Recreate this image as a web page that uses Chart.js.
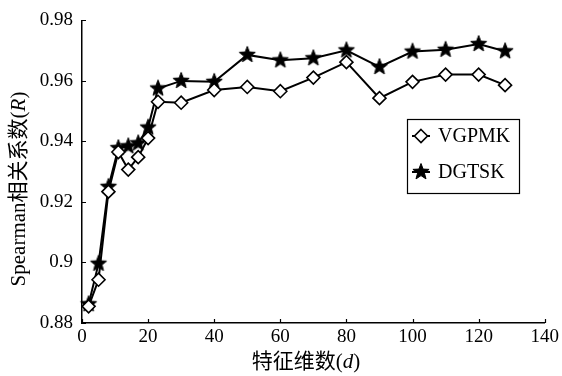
<!DOCTYPE html>
<html>
<head>
<meta charset="utf-8">
<script src="https://cdn.jsdelivr.net/npm/chart.js@4.4.0/dist/chart.umd.min.js"></script>
<style>
html,body{margin:0;padding:0;background:#fff;}
#wrap{width:562px;height:376px;position:relative;}
</style>
</head>
<body>
<div id="wrap"><canvas id="c" width="562" height="376"></canvas></div>
<script>
// ---- data ----
const dims = [2, 5, 8, 11, 14, 17, 20, 23, 30, 40, 50, 60, 70, 80, 90, 100, 110, 120, 128];
const vgpmk = [0.8855, 0.8943, 0.9234, 0.9365, 0.9307, 0.9348, 0.9411, 0.9531, 0.9528, 0.9570, 0.9580, 0.9566, 0.9611, 0.9662, 0.9543, 0.9597, 0.9621, 0.9621, 0.9586];
const dgtsk = [0.8862, 0.8996, 0.9250, 0.9378, 0.9384, 0.9394, 0.9446, 0.9575, 0.9600, 0.9597, 0.9686, 0.9668, 0.9675, 0.9701, 0.9646, 0.9697, 0.9703, 0.9722, 0.9698];
const seriesNames = ['VGPMK', 'DGTSK'];
const xTickValues = [0, 20, 40, 60, 80, 100, 120, 140];
const yTickValues = [0.88, 0.90, 0.92, 0.94, 0.96, 0.98];
const xTitle = ['特征维数(', 'd', ')'];
const yTitle = ['Spearman相关系数(', 'R', ')'];

const SERIF = '"Liberation Serif", "Noto Sans CJK SC", serif';

function makeStar(size, outerR, innerR) {
  const cv = document.createElement('canvas');
  cv.width = size; cv.height = size;
  const g = cv.getContext('2d');
  const cx = size / 2, cy = size / 2;
  g.beginPath();
  for (let i = 0; i < 10; i++) {
    const r = i % 2 === 0 ? outerR : innerR;
    const a = -Math.PI / 2 + i * Math.PI / 5;
    const px = cx + r * Math.cos(a), py = cy + r * Math.sin(a);
    if (i === 0) g.moveTo(px, py); else g.lineTo(px, py);
  }
  g.closePath();
  g.fillStyle = '#000';
  g.fill();
  g.lineWidth = 1;
  g.strokeStyle = '#000';
  g.stroke();
  return cv;
}
const starImg = makeStar(20, 8.5, 3.6);

const pts = (ys) => dims.map((x, i) => ({x: x, y: ys[i]}));

const decoPlugin = {
  id: 'deco',
  afterDraw(chart) {
    const ctx = chart.ctx;
    const xs = chart.scales.x, ys = chart.scales.y;
    const ca = chart.chartArea;
    ctx.save();
    // inward tick marks
    ctx.strokeStyle = '#000';
    ctx.lineWidth = 1.2;
    ctx.beginPath();
    xTickValues.forEach(v => {
      const p = Math.round(xs.getPixelForValue(v)) + 0.5;
      ctx.moveTo(p, ca.bottom); ctx.lineTo(p, ca.bottom - 4);
    });
    yTickValues.forEach(v => {
      const p = Math.round(ys.getPixelForValue(v)) + 0.5;
      ctx.moveTo(ca.left, p); ctx.lineTo(ca.left + 4, p);
    });
    ctx.stroke();

    // axis titles
    function drawMixed(parts, cx, cy, rot, size) {
      ctx.save();
      ctx.translate(cx, cy);
      ctx.rotate(rot);
      ctx.fillStyle = '#000';
      ctx.textBaseline = 'middle';
      ctx.textAlign = 'left';
      const fonts = [size + 'px ' + SERIF, 'italic ' + size + 'px ' + SERIF, size + 'px ' + SERIF];
      let total = 0;
      const widths = parts.map((t, i) => { ctx.font = fonts[i]; const w = ctx.measureText(t).width; total += w; return w; });
      let x = -total / 2;
      parts.forEach((t, i) => { ctx.font = fonts[i]; ctx.fillText(t, x, 0); x += widths[i]; });
      ctx.restore();
    }
    drawMixed(xTitle, 306, 362, 0, 21);
    drawMixed(yTitle, 19, 189, -Math.PI / 2, 21);

    // legend
    const lx = 407.5, ly = 119.5, lw = 112, lh = 74;
    ctx.fillStyle = '#fff';
    ctx.fillRect(lx, ly, lw, lh);
    ctx.strokeStyle = '#000';
    ctx.lineWidth = 1.2;
    ctx.strokeRect(lx, ly, lw, lh);
    const rows = [136, 172];
    rows.forEach((ry, i) => {
      ctx.beginPath();
      ctx.lineWidth = 2;
      ctx.moveTo(412, ry); ctx.lineTo(430, ry);
      ctx.stroke();
      if (i === 0) {
        ctx.beginPath();
        ctx.moveTo(421, ry - 6.5); ctx.lineTo(427.5, ry); ctx.lineTo(421, ry + 6.5); ctx.lineTo(414.5, ry);
        ctx.closePath();
        ctx.fillStyle = '#fff'; ctx.fill();
        ctx.lineWidth = 1.6; ctx.stroke();
      } else {
        ctx.drawImage(starImg, 421 - 10, ry - 10);
      }
      ctx.fillStyle = '#000';
      ctx.font = '20px ' + SERIF;
      ctx.textBaseline = 'middle';
      ctx.textAlign = 'left';
      ctx.fillText(seriesNames[i], 438, ry + 1);
    });
    ctx.restore();
  }
};

new Chart(document.getElementById('c'), {
  type: 'line',
  data: {
    datasets: [
      {
        label: seriesNames[0],
        data: pts(vgpmk),
        borderColor: '#000',
        borderWidth: 2,
        pointStyle: 'rectRot',
        pointRadius: 6.5,
        pointBackgroundColor: '#fff',
        pointBorderColor: '#000',
        pointBorderWidth: 1.6,
        tension: 0,
        fill: false
      },
      {
        label: seriesNames[1],
        data: pts(dgtsk),
        borderColor: '#000',
        borderWidth: 2,
        pointStyle: starImg,
        pointRadius: 8,
        tension: 0,
        fill: false
      }
    ]
  },
  options: {
    responsive: false,
    animation: false,
    clip: false,
    layout: {padding: {left: 0, right: 17, top: 17, bottom: 0}},
    plugins: {legend: {display: false}, tooltip: {enabled: false}},
    scales: {
      x: {
        type: 'linear',
        min: 0, max: 140,
        afterBuildTicks(s) { s.ticks = xTickValues.map(v => ({value: v})); },
        afterFit(s) { s.height = 53; },
        grid: {display: true, drawOnChartArea: false, drawTicks: false},
        border: {display: true, color: '#000', width: 1.5},
        ticks: {color: '#000', padding: 3, maxRotation: 0, font: {family: SERIF, size: 19}}
      },
      y: {
        min: 0.88, max: 0.98,
        afterBuildTicks(s) { s.ticks = yTickValues.map(v => ({value: v})); },
        afterFit(s) { s.width = 82; },
        grid: {display: true, drawOnChartArea: false, drawTicks: false},
        border: {display: true, color: '#000', width: 1.5},
        ticks: {
          color: '#000', padding: 9, font: {family: SERIF, size: 19},
          callback: v => String(Number(v.toFixed(2)))
        }
      }
    }
  },
  plugins: [decoPlugin]
});
</script>
</body>
</html>
